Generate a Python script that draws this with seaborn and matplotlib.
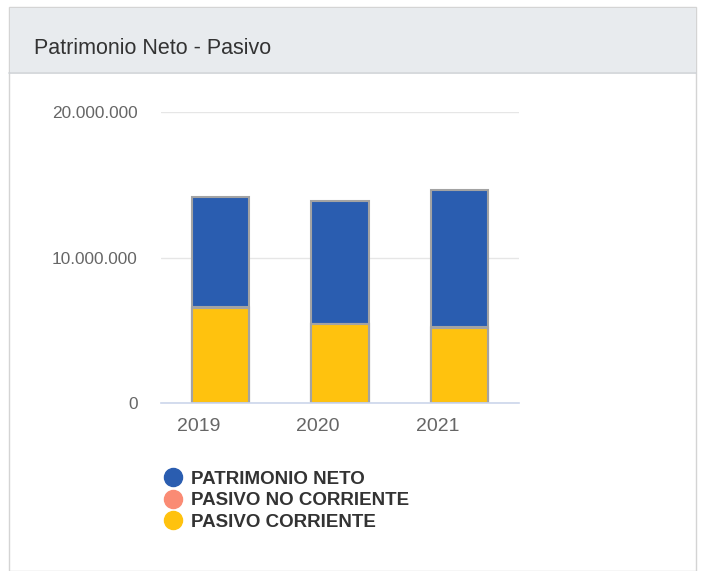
import matplotlib
matplotlib.use("Agg")
import matplotlib.pyplot as plt
import matplotlib.transforms as mtransforms
from matplotlib.lines import Line2D
from matplotlib.patches import Rectangle
import numpy as np
import pandas as pd
import seaborn as sns

# data
years = ["2019", "2020", "2021"]
pasivo_corriente = [6.53e6, 5.43e6, 5.15e6]
pasivo_no_corriente = [0.06e6, 0.02e6, 0.08e6]
patrimonio_neto = [7.57e6, 8.43e6, 9.41e6]
series_names = ["PATRIMONIO NETO", "PASIVO NO CORRIENTE", "PASIVO CORRIENTE"]
series_colors = ["#2a5db0", "#fa8b74", "#ffc20e"]
y_ticks = [0, 10_000_000, 20_000_000]
y_tick_labels = ["0", "10.000.000", "20.000.000"]

sns.set_theme(style="white")
plt.rcParams["font.family"] = ["Liberation Sans", "DejaVu Sans"]

df = pd.DataFrame({
    "year": years,
    "corriente": pasivo_corriente,
    "no_corriente": pasivo_no_corriente,
    "neto": patrimonio_neto,
})
# cumulative tops so the layers stack
df["top_nc"] = df["corriente"] + df["no_corriente"]
df["top_neto"] = df["top_nc"] + df["neto"]

W, H = 705, 571
fig = plt.figure(figsize=(W / 100, H / 100), dpi=100)
fig.patch.set_facecolor("white")

# card frame and header
fig.patches.append(Rectangle((9 / W, 0), 687 / W, 1 - 7 / H, transform=fig.transFigure,
                             facecolor="white", edgecolor="#d4d4d4", lw=1.0, zorder=-3))
fig.patches.append(Rectangle((9.5 / W, 1 - 72 / H), 686 / W, 64 / H, transform=fig.transFigure,
                             facecolor="#e8ebee", edgecolor="none", zorder=-2))
fig.add_artist(Line2D([9 / W, 696 / W], [1 - 72.5 / H] * 2, transform=fig.transFigure,
                      color="#cfd3d7", lw=1.2, zorder=-1))
fig.text(34 / W, 1 - 48 / H, "Patrimonio Neto - Pasivo", fontsize=15.5, color="#333333",
         va="center", ha="left")

ax = fig.add_axes([161 / W, 1 - 403 / H, 358 / W, 291 / H])
ax.set_zorder(2)
ax.patch.set_alpha(0)
edge = "#a3a3a3"
for col, color in zip(["top_neto", "top_nc", "corriente"], series_colors):
    sns.barplot(data=df, x="year", y=col, color=color, width=0.48, saturation=1,
                edgecolor=edge, linewidth=1.5, ax=ax, zorder=3)

ax.set_xlim(-0.5, 2.5)
ax.set_ylim(0, 20_000_000)
ax.set_yticks(y_ticks)
ax.set_yticklabels(y_tick_labels, fontsize=12.4, color="#666666")
ax.tick_params(axis="y", length=0, pad=17)
ax.yaxis.grid(True, color="#e6e6e6", lw=1.0, zorder=0)
ax.set_axisbelow(True)
ax.set_xlabel("")
ax.set_ylabel("")
for s in ["left", "right", "top"]:
    ax.spines[s].set_visible(False)
ax.spines["bottom"].set_color("#ccd6eb")
ax.spines["bottom"].set_linewidth(1.2)
ax.spines["bottom"].set_zorder(4)

# boundary tick marks, labels sit left of centre like the original
ax.set_xticks(np.arange(len(years)))
ax.set_xticklabels(years, fontsize=14, color="#666666")
ax.tick_params(axis="x", length=0, pad=11)
offset = mtransforms.ScaledTranslation(-22 / 100, 0, fig.dpi_scale_trans)
for lbl in ax.get_xticklabels():
    lbl.set_transform(lbl.get_transform() + offset)
ax.set_xticks(np.arange(len(years) + 1) - 0.5, minor=True)
ax.tick_params(axis="x", which="minor", length=8, width=1.2, color="#ccd6eb")

handles = [Line2D([], [], marker="o", ls="none", markersize=13, markerfacecolor=c,
                  markeredgecolor=c) for c in series_colors]
leg = fig.legend(handles, series_names, loc="upper left", bbox_to_anchor=(152 / W, 1 - 461 / H),
                 frameon=False, handletextpad=0.38, labelspacing=0.24, borderpad=0,
                 handlelength=1.2, prop={"weight": "bold", "size": 13.5})
for t in leg.get_texts():
    t.set_color("#333333")

fig.savefig("out.png", dpi=100, facecolor="white")
